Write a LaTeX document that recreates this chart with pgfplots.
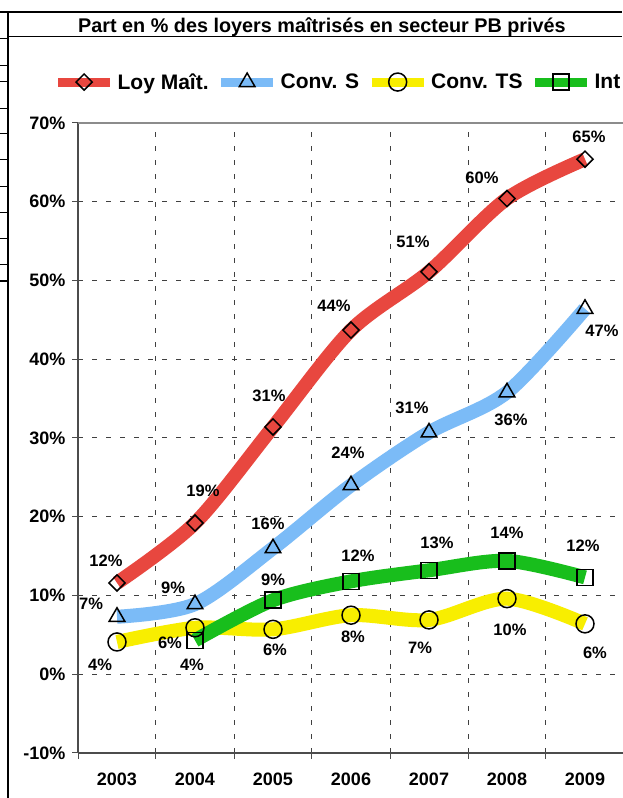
\documentclass[border=0pt]{standalone}
\usepackage{fontspec}
\setmainfont{Liberation Sans}
\usepackage{pgfplots}
\pgfplotsset{compat=1.18}
\definecolor{loy}{HTML}{E8473F}
\definecolor{convs}{HTML}{7BBBF7}
\definecolor{convts}{HTML}{F8EE00}
\definecolor{int}{HTML}{18BE1C}
\definecolor{gridc}{HTML}{404040}

% data label at pixel position of the reference
\newcommand\lbl[3]{\node[font=\bfseries\fontsize{16.5}{16.5}\selectfont] at (axis cs:{2003+(#1-117)/78},{(674.25-#2)/7.875}) {#3};}

\begin{document}
\begin{tikzpicture}[x=1pt,y=1pt]
\useasboundingbox (0,0) rectangle (622,798);
\fill[white] (0,0) rectangle (622,798);
% spreadsheet cell borders behind the chart
\draw[line width=2pt] (0,786) -- (622,786);
\draw[line width=1.2pt] (8,786) -- (8,0);
\draw[line width=1pt] (8,761) -- (622,761);
\foreach \y in {38,65,81,108,133,159,186,212,238,264}
  \draw[line width=0.8pt] (0,798-\y) -- (8,798-\y);
\draw[line width=2pt] (0,517) -- (8,517);
\node[font=\bfseries\fontsize{19.8}{20}\selectfont] at (322,771) {Part en \% des loyers maîtrisés en secteur PB privés};

\begin{axis}[
  at={(78pt,45pt)}, anchor=south west,
  scale only axis, width=546pt, height=630pt,
  xmin=2002.5, xmax=2009.5, ymin=-10, ymax=70,
  axis x line*=bottom, axis y line*=left,
  axis line style={draw=black!70, line width=1.5pt},
  xtick={2002.5,2003.5,...,2009.5},
  x tick label as interval,
  xticklabels={2003,2004,2005,2006,2007,2008,2009},
  ytick={-10,0,...,70},
  yticklabels={-10\%,0\%,10\%,20\%,30\%,40\%,50\%,60\%,70\%},
  grid=major,
  major grid style={dash pattern=on 5pt off 9pt, draw=gridc, line width=1pt},
  tick align=outside, major tick length=6pt,
  tick style={draw=black!70, line width=1pt},
  tick label style={font=\bfseries\fontsize{18}{18}\selectfont},
  yticklabel style={xshift=-3pt},
  xticklabel style={yshift=-10pt},
  legend columns=4,
  legend style={at={(-0.045,1.065)}, anchor=west, draw=none, fill=none,
    inner sep=0pt,
    font=\bfseries\fontsize{21}{21}\selectfont,
    nodes={inner xsep=3pt},
    /tikz/every even column/.append style={column sep=5pt}},
  legend image code/.code={\draw[#1, line width=9pt, mark repeat=2, mark phase=2]
    plot coordinates {(0pt,0pt) (26pt,0pt) (52pt,0pt)};},
]
\addplot[loy, line width=14pt, smooth, mark=square, mark size=5.7pt,
  mark options={draw=black, fill=none, line width=1.5pt, rotate=45, solid}]
  coordinates {(2003,11.6) (2004,19.2) (2005,31.4) (2006,43.7) (2007,51.1) (2008,60.4) (2009,65.4)};
\addlegendentry{Loy Maît.}
\addplot[convs, line width=14pt, smooth, mark=triangle, mark size=9pt,
  mark options={draw=black, fill=none, line width=1.5pt, solid}]
  coordinates {(2003,7.3) (2004,8.9) (2005,16.0) (2006,24.0) (2007,30.7) (2008,35.8) (2009,46.4)};
\addlegendentry{Conv. S}
\addplot[convts, line width=14pt, smooth, mark=o, mark size=9pt,
  mark options={draw=black, fill=none, line width=1.5pt, solid}]
  coordinates {(2003,4.1) (2004,5.9) (2005,5.7) (2006,7.5) (2007,6.9) (2008,9.6) (2009,6.4)};
\addlegendentry{Conv. TS}
\addplot[int, line width=14pt, smooth, mark=square, mark size=8pt,
  mark options={draw=black, fill=none, line width=1.5pt, solid}]
  coordinates {(2004,4.3) (2005,9.4) (2006,11.8) (2007,13.2) (2008,14.4) (2009,12.3)};
\addlegendentry{Int}

\draw[black!45, line width=1.5pt] (rel axis cs:0,1) -- (rel axis cs:1,1);

% Loy Maît.
\lbl{106}{561}{12\%} \lbl{203}{491}{19\%} \lbl{269}{396}{31\%} \lbl{334}{306}{44\%}
\lbl{413}{242}{51\%} \lbl{482}{178}{60\%} \lbl{589}{137}{65\%}
% Conv. S
\lbl{91}{604}{7\%} \lbl{173}{588}{9\%} \lbl{268}{524}{16\%} \lbl{348}{453}{24\%}
\lbl{412}{408}{31\%} \lbl{511}{420}{36\%} \lbl{602}{331}{47\%}
% Conv. TS
\lbl{100}{665}{4\%} \lbl{170}{643}{6\%} \lbl{275}{650}{6\%} \lbl{353}{637}{8\%}
\lbl{420}{648}{7\%} \lbl{510}{630}{10\%} \lbl{595}{653}{6\%}
% Int
\lbl{192}{665}{4\%} \lbl{273}{580}{9\%} \lbl{358}{556}{12\%} \lbl{437}{543}{13\%}
\lbl{507}{533}{14\%} \lbl{583}{546}{12\%}
\end{axis}
\end{tikzpicture}
\end{document}
